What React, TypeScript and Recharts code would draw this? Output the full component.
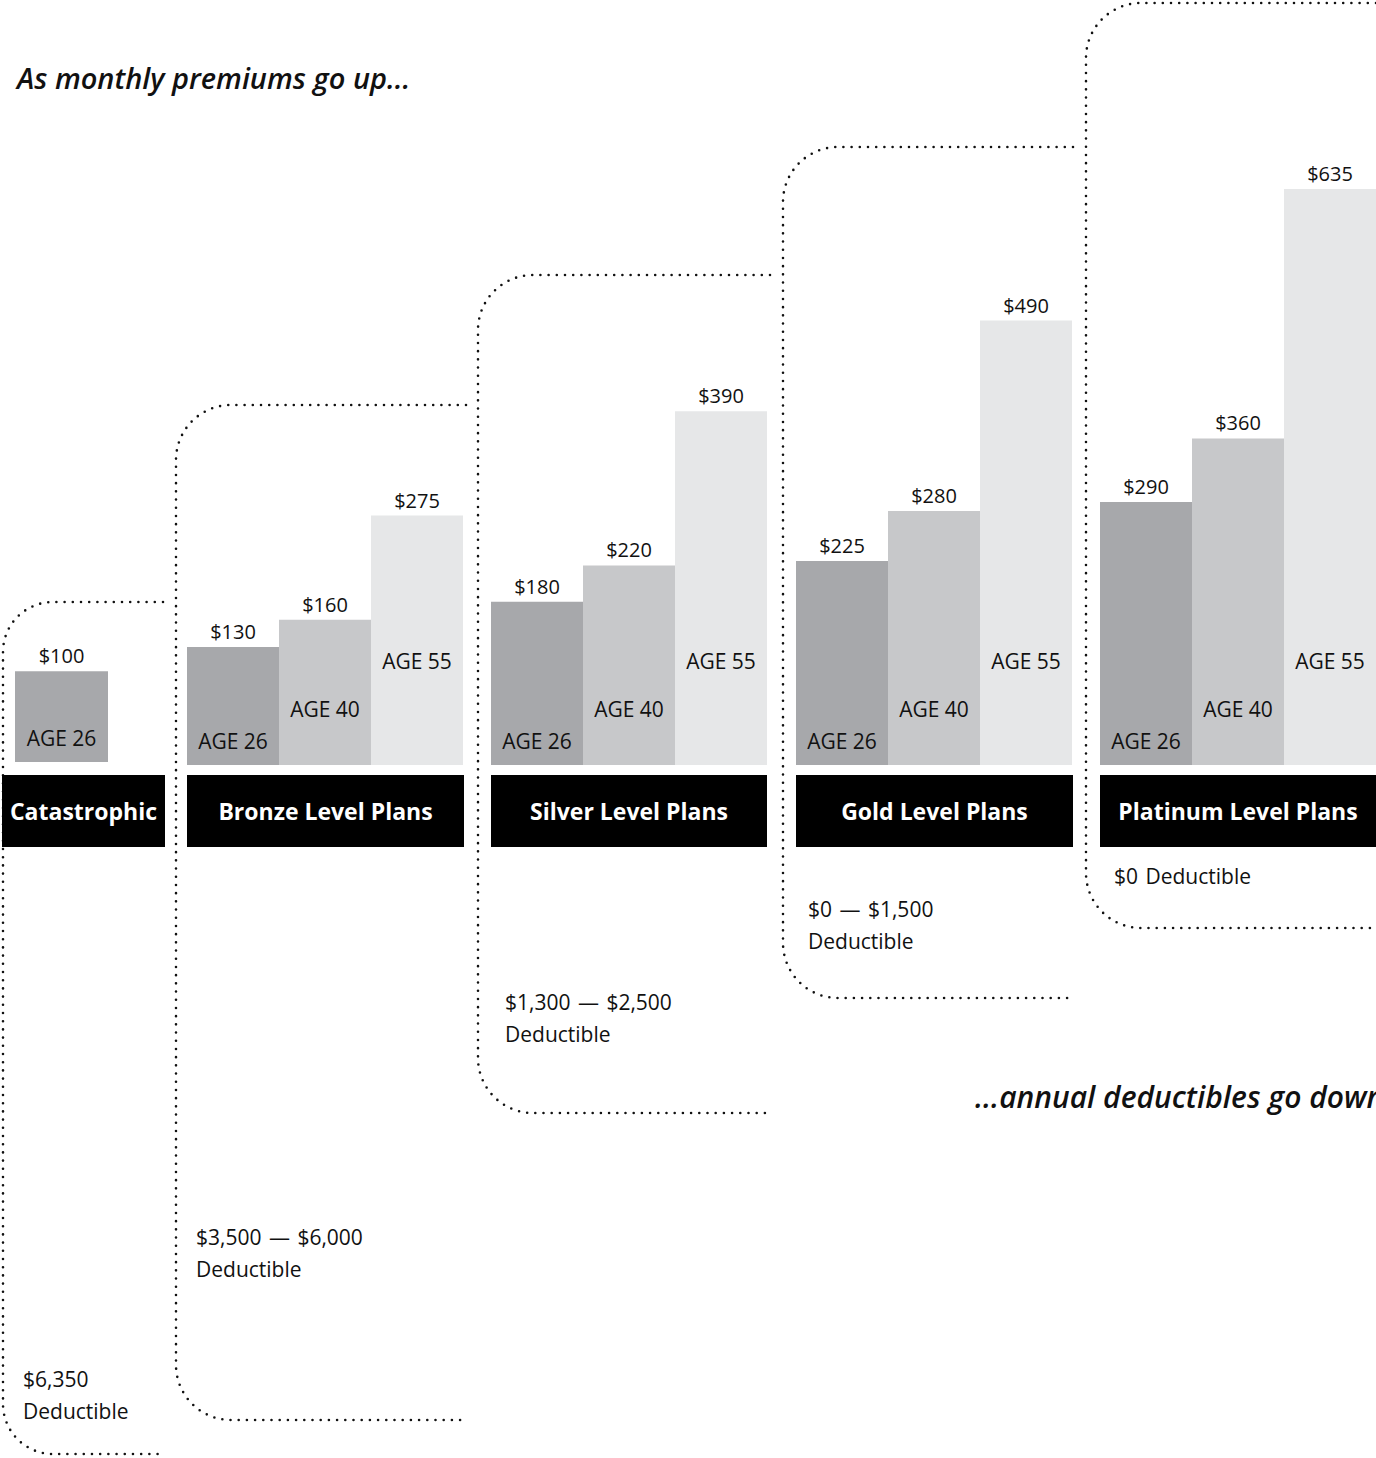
import React from "react";
import { BarChart, Bar, XAxis, YAxis, LabelList } from "recharts";

// ---- data ----
const planNames = ["Catastrophic", "Bronze Level Plans", "Silver Level Plans", "Gold Level Plans", "Platinum Level Plans"];
const age26 = [100, 130, 180, 225, 290];
const age40 = [null, 160, 220, 280, 360];
const age55 = [null, 275, 390, 490, 635];
const ageLabels = ["AGE 26", "AGE 40", "AGE 55"];
const deductibleLines = [
  ["$6,350", "Deductible"],
  ["$3,500 \u2014 $6,000", "Deductible"],
  ["$1,300 \u2014 $2,500", "Deductible"],
  ["$0 \u2014 $1,500", "Deductible"],
  ["$0 Deductible"],
];
const titleTop = "As monthly premiums go up...";
const titleBottom = "...annual deductibles go down";

// ---- layout / style ----
const W = 1376;
const H = 1458;
const FONT = "'Open Sans', 'Noto Sans', sans-serif";
const COLORS = ["#a7a8ab", "#c7c8ca", "#e6e7e8"];
const AGE_OFFSETS = [24, 56, 104];
const Y_MAX = 700;
const CHART_TOP = 100;
const MARGIN_TOP = 30;
const PLOT_H = 635; // baseline at 765
const KEYS = ["age26", "age40", "age55"];

const chartPos = [
  { left: 15, width: 93, dy: -3 },
  { left: 187, width: 277, dy: 0 },
  { left: 491, width: 277, dy: 0 },
  { left: 796, width: 277, dy: 0 },
  { left: 1100, width: 276, dy: 0 },
];
const labelBoxes = [
  { left: 2, width: 163 },
  { left: 187, width: 277 },
  { left: 491, width: 276 },
  { left: 796, width: 277 },
  { left: 1100, width: 276 },
];
const dedPos = [
  { left: 23, top: 1363 },
  { left: 196, top: 1221 },
  { left: 505, top: 986 },
  { left: 808, top: 893 },
  { left: 1114, top: 860 },
];
const dotted = [
  { L: 3, T: 602, B: 1454, R: 163, r: 50 },
  { L: 176, T: 405, B: 1420, R: 466, r: 55 },
  { L: 478, T: 275, B: 1113, R: 770, r: 55 },
  { L: 783, T: 147, B: 998, R: 1073, r: 55 },
  { L: 1086, T: 3, B: 928, R: 1376, r: 55 },
];

function boxPath(b: { L: number; T: number; B: number; R: number; r: number }) {
  const { L, T, B, R, r } = b;
  return `M ${R} ${T} L ${L + r} ${T} A ${r} ${r} 0 0 0 ${L} ${T + r} L ${L} ${B - r} A ${r} ${r} 0 0 0 ${L + r} ${B} L ${R} ${B}`;
}

const makeAgeLabel = (i: number) => (props: any) => {
  const x = Number(props.x);
  const y = Number(props.y);
  const w = Number(props.width);
  const h = Number(props.height);
  if (!isFinite(x) || !isFinite(h)) return null;
  return (
    <text
      x={x + w / 2}
      y={y + h - AGE_OFFSETS[i]}
      textAnchor="middle"
      dominantBaseline="central"
      fill="#111"
      fontSize={21}
      fontFamily={FONT}
    >
      {ageLabels[i]}
    </text>
  );
};

function PlanChart({ idx }: { idx: number }) {
  const vals = [age26[idx], age40[idx], age55[idx]];
  const row: any = { name: planNames[idx] };
  const keys: string[] = [];
  vals.forEach((v, i) => {
    if (v != null) {
      row[KEYS[i]] = v;
      keys.push(KEYS[i]);
    }
  });
  const pos = chartPos[idx];
  return (
    <div style={{ position: "absolute", left: pos.left, top: CHART_TOP + pos.dy, width: pos.width }}>
      <BarChart
        width={pos.width}
        height={PLOT_H + MARGIN_TOP}
        data={[row]}
        margin={{ top: MARGIN_TOP, right: 0, bottom: 0, left: 0 }}
        barGap={0}
        barCategoryGap={0}
      >
        <XAxis dataKey="name" hide />
        <YAxis hide domain={[0, Y_MAX]} allowDataOverflow />
        {keys.map((k) => {
          const i = KEYS.indexOf(k);
          return (
            <Bar key={k} dataKey={k} fill={COLORS[i]} isAnimationActive={false}>
              <LabelList
                dataKey={k}
                position="top"
                offset={8}
                formatter={(v: any) => `$${v}`}
                fill="#111"
                fontSize={20}
                fontFamily={FONT}
              />
              <LabelList dataKey={k} content={makeAgeLabel(i)} />
            </Bar>
          );
        })}
      </BarChart>
    </div>
  );
}

export default function App() {
  return (
    <div style={{ position: "relative", width: W, height: H, overflow: "hidden", background: "#fff", fontFamily: FONT, color: "#111" }}>
      <style>{`body{margin:0}`}</style>
      <svg width={W} height={H} style={{ position: "absolute", left: 0, top: 0 }}>
        {dotted.map((b, i) => (
          <path key={i} d={boxPath(b)} fill="none" stroke="#111" strokeWidth={2.6} strokeDasharray="0 8.2" strokeLinecap="round" />
        ))}
      </svg>
      <div
        style={{ position: "absolute", left: 17, top: 58, lineHeight: "40px", fontSize: 29, fontStyle: "italic", fontWeight: 600, whiteSpace: "nowrap" }}
      >
        {titleTop}
      </div>
      {planNames.map((_, i) => (
        <PlanChart key={i} idx={i} />
      ))}
      {planNames.map((n, i) => (
        <div
          key={n}
          style={{
            position: "absolute",
            left: labelBoxes[i].left,
            top: 775,
            width: labelBoxes[i].width,
            height: 72,
            background: "#000",
            color: "#fff",
            fontWeight: 700,
            fontSize: 23,
            lineHeight: "72px",
            textAlign: "center",
            whiteSpace: "nowrap",
          }}
        >
          {n}
        </div>
      ))}
      {deductibleLines.map((lines, i) => (
        <div
          key={i}
          style={{ position: "absolute", left: dedPos[i].left, top: dedPos[i].top, fontSize: 21, lineHeight: "32px", whiteSpace: "nowrap", wordSpacing: 2 }}
        >
          {lines.map((l, j) => (
            <div key={j}>{l}</div>
          ))}
        </div>
      ))}
      <div
        style={{ position: "absolute", left: 975, top: 1077, lineHeight: "40px", fontSize: 30, fontStyle: "italic", fontWeight: 600, whiteSpace: "nowrap" }}
      >
        {titleBottom}
      </div>
    </div>
  );
}
